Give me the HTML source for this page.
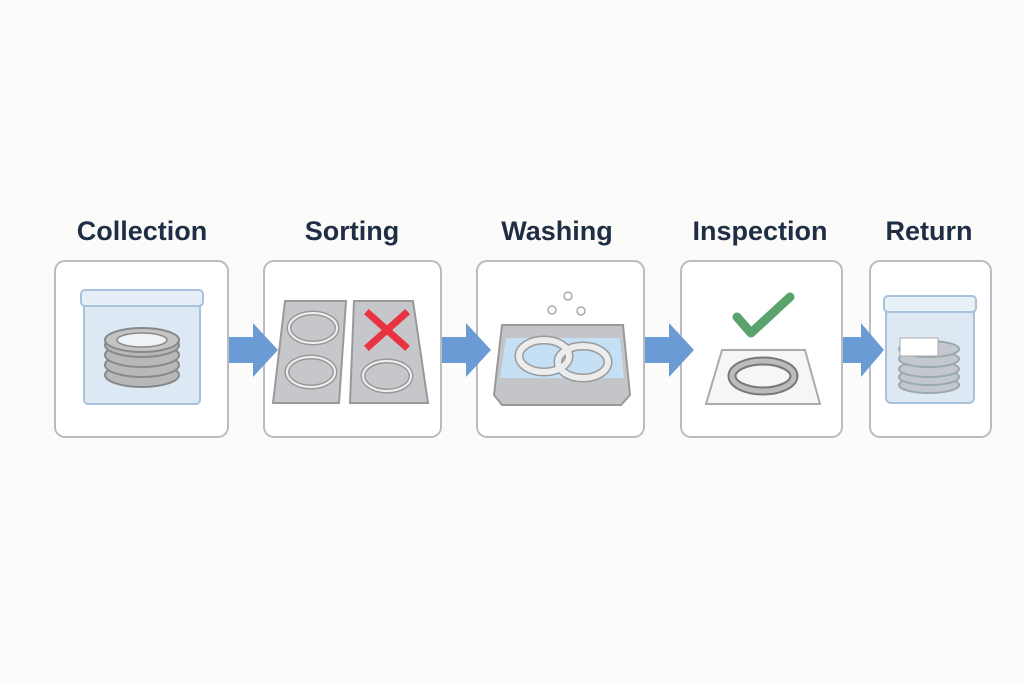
<!DOCTYPE html>
<html><head><style>html,body{margin:0;padding:0;background:#fbfbf9;}svg{display:block}</style></head><body>
<svg width="1024" height="682" viewBox="0 0 1024 682" xmlns="http://www.w3.org/2000/svg">
<rect width="1024" height="682" fill="#fbfbf9"/>
<g font-family="Liberation Sans, sans-serif" font-weight="bold" font-size="27" fill="#1f2d45" text-anchor="middle">
<text x="142" y="240">Collection</text>
<text x="352" y="240">Sorting</text>
<text x="557" y="240">Washing</text>
<text x="760" y="240">Inspection</text>
<text x="929" y="240">Return</text>
</g>
<g fill="#fff" stroke="#b9bcc0" stroke-width="2">
<rect x="55" y="261" width="173" height="176" rx="10"/>
<rect x="264" y="261" width="177" height="176" rx="10"/>
<rect x="477" y="261" width="167" height="176" rx="10"/>
<rect x="681" y="261" width="161" height="176" rx="10"/>
<rect x="870" y="261" width="121" height="176" rx="10"/>
</g>
<!-- arrows -->
<g fill="#6b9bd4">
<polygon points="229,337 253,337 253,323 278,350 253,377 253,363 229,363"/>
<polygon points="442,337 466,337 466,323 491,350 466,377 466,363 442,363"/>
<polygon points="645,337 669,337 669,323 694,350 669,377 669,363 645,363"/>
<polygon points="843,337 861,337 861,323 884,350 861,377 861,363 843,363"/>
</g>
<!-- collection box -->
<rect x="84" y="300" width="116" height="104" rx="4" fill="#dce8f4" stroke="#a9c2dc" stroke-width="2"/>
<rect x="81" y="290" width="122" height="16" rx="4" fill="#e6eff8" stroke="#a9c2dc" stroke-width="2"/>
<g stroke="#888" stroke-width="2" fill="#b8b8b8">
<ellipse cx="142" cy="375" rx="37" ry="12"/>
<ellipse cx="142" cy="365" rx="37" ry="12"/>
<ellipse cx="142" cy="355" rx="37" ry="12"/>
<ellipse cx="142" cy="345" rx="37" ry="12"/>
<ellipse cx="142" cy="340" rx="37" ry="12" fill="#c4c4c4"/>
</g>
<ellipse cx="142" cy="340" rx="25" ry="7" fill="#eef3f8" stroke="#888" stroke-width="1.5"/>
<!-- sorting -->
<polygon points="285,301 346,301 339,403 273,403" fill="#c5c7ca" stroke="#999" stroke-width="2"/>
<polygon points="354,301 413,301 428,403 350,403" fill="#c5c7ca" stroke="#999" stroke-width="2"/>
<g fill="none" stroke="#999" stroke-width="5">
<ellipse cx="313" cy="328" rx="24" ry="15"/><ellipse cx="311" cy="372" rx="24" ry="15"/><ellipse cx="387" cy="376" rx="24" ry="15"/>
</g>
<g fill="none" stroke="#f0f0f0" stroke-width="2">
<ellipse cx="313" cy="328" rx="24" ry="15"/><ellipse cx="311" cy="372" rx="24" ry="15"/><ellipse cx="387" cy="376" rx="24" ry="15"/>
</g>
<g stroke="#ea3340" stroke-width="7" stroke-linecap="square"><line x1="369" y1="314" x2="405" y2="346"/><line x1="405" y1="314" x2="369" y2="346"/></g>
<!-- washing -->
<polygon points="502,325 623,325 630,395 621,405 502,405 494,395" fill="#c3c5c8" stroke="#999" stroke-width="2"/>
<polygon points="506,338 620,338 624,378 500,378" fill="#c5e0f4"/>
<g fill="none" stroke="#9a9a9a" stroke-width="9"><ellipse cx="544" cy="356" rx="25" ry="16"/><ellipse cx="583" cy="362" rx="25" ry="16"/></g>
<g fill="none" stroke="#ececec" stroke-width="6"><ellipse cx="544" cy="356" rx="25" ry="16"/><ellipse cx="583" cy="362" rx="25" ry="16"/></g>
<g fill="none" stroke="#aaa" stroke-width="1.5"><circle cx="568" cy="296" r="4"/><circle cx="552" cy="310" r="4"/><circle cx="581" cy="311" r="4"/></g>
<!-- inspection -->
<polygon points="722,350 805,350 820,404 706,404" fill="#f6f6f6" stroke="#aaa" stroke-width="2"/>
<ellipse cx="763" cy="376" rx="31" ry="15" fill="none" stroke="#777" stroke-width="9"/>
<ellipse cx="763" cy="376" rx="31" ry="15" fill="none" stroke="#bbb" stroke-width="5"/>
<polyline points="737,317 751,333 790,297" fill="none" stroke="#5ba36d" stroke-width="9" stroke-linecap="round" stroke-linejoin="round"/>
<!-- return -->
<rect x="886" y="308" width="88" height="95" rx="5" fill="#dde8f3" stroke="#a9c2dc" stroke-width="2"/>
<rect x="884" y="296" width="92" height="16" rx="4" fill="#e8f0f8" stroke="#a9c2dc" stroke-width="2"/>
<g stroke="#9aa" stroke-width="2" fill="#c2c8ce">
<ellipse cx="929" cy="385" rx="30" ry="8"/><ellipse cx="929" cy="377" rx="30" ry="8"/><ellipse cx="929" cy="369" rx="30" ry="8"/><ellipse cx="929" cy="359" rx="30" ry="8"/><ellipse cx="929" cy="349" rx="30" ry="8"/>
</g>
<rect x="900" y="338" width="38" height="18" fill="#fff" stroke="#aaa"/>
</svg>
</body></html>
